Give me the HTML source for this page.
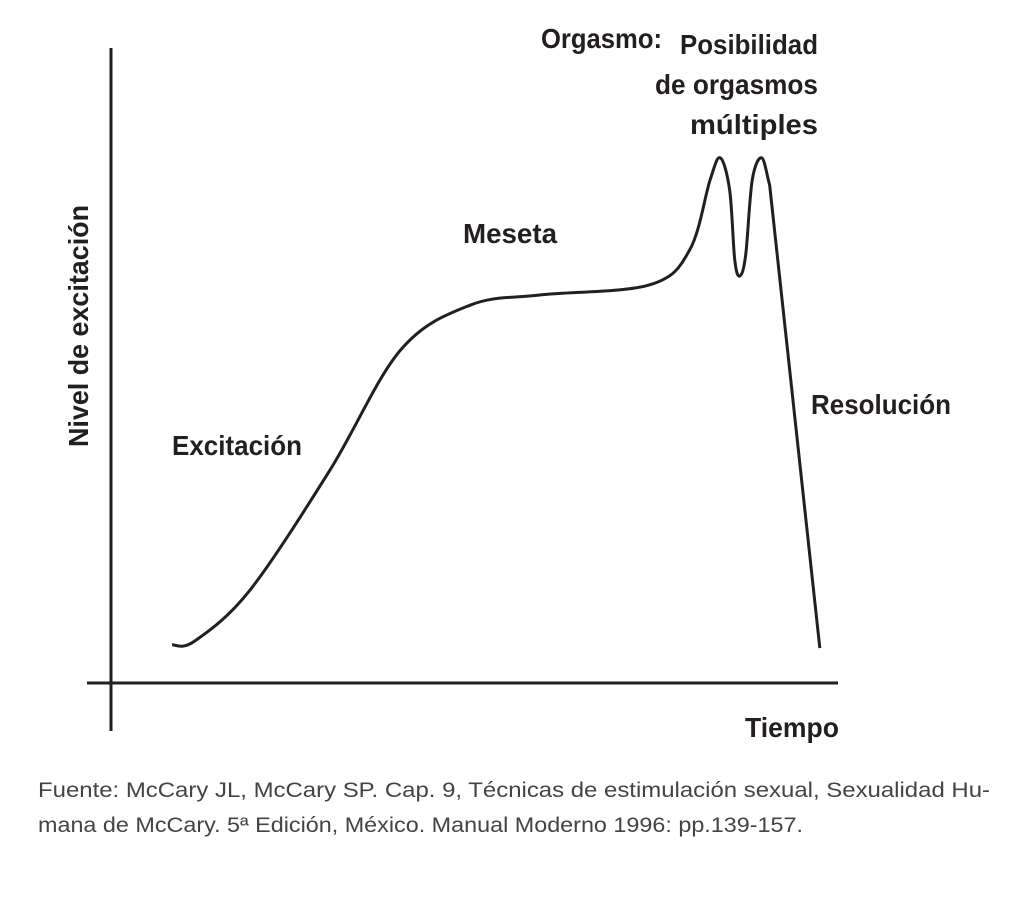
<!DOCTYPE html>
<html><head><meta charset="utf-8"><style>
html,body{margin:0;padding:0;background:#fff;}
svg{display:block;}
.lbl{font-family:"Liberation Sans Narrow","Liberation Sans",sans-serif;font-weight:bold;font-size:28px;fill:#231f20;}
.foot{font-family:"Liberation Sans",sans-serif;font-size:21px;fill:#444;}
</style></head><body>
<svg width="1029" height="904" viewBox="0 0 1029 904">
<line x1="111" y1="48" x2="111" y2="731" stroke="#231f20" stroke-width="3"/>
<line x1="87" y1="683" x2="838" y2="683" stroke="#231f20" stroke-width="3"/>
<path id="curve" fill="none" stroke="#231f20" stroke-width="3"/>
<text class="lbl" x="172" y="455" textLength="130" lengthAdjust="spacingAndGlyphs">Excitación</text>
<text class="lbl" x="463" y="243" textLength="94" lengthAdjust="spacingAndGlyphs">Meseta</text>
<text class="lbl" x="811" y="414" textLength="140" lengthAdjust="spacingAndGlyphs">Resolución</text>
<text class="lbl" x="541" y="48" textLength="121" lengthAdjust="spacingAndGlyphs">Orgasmo:</text>
<text class="lbl" x="680" y="54" textLength="138" lengthAdjust="spacingAndGlyphs">Posibilidad</text>
<text class="lbl" x="655" y="94" textLength="163" lengthAdjust="spacingAndGlyphs">de orgasmos</text>
<text class="lbl" x="690" y="134" textLength="128" lengthAdjust="spacingAndGlyphs">múltiples</text>
<text class="lbl" x="745" y="737" textLength="94" lengthAdjust="spacingAndGlyphs">Tiempo</text>
<text class="lbl" transform="translate(88,447) rotate(-90)" x="0" y="0" textLength="242" lengthAdjust="spacingAndGlyphs">Nivel de excitación</text>
<text class="foot" x="38" y="797" textLength="952" lengthAdjust="spacingAndGlyphs">Fuente: McCary JL, McCary SP. Cap. 9, Técnicas de estimulación sexual, Sexualidad Hu-</text>
<text class="foot" x="38" y="832" textLength="765" lengthAdjust="spacingAndGlyphs">mana de McCary. 5ª Edición, México. Manual Moderno 1996: pp.139-157.</text>
</svg>
<script>
const timeValues = [8.4, 11.5, 19.1, 30.1, 39.8, 49.4, 59.0, 74.1, 79.6, 82.4, 83.8, 85.1, 85.8, 86.5, 87.3, 88.2, 89.5, 90.6, 97.5];
const levelValues = [6.0, 6.6, 14.6, 33.5, 52.4, 59.5, 61.1, 62.7, 68.2, 79.2, 82.7, 77.6, 66.6, 64.1, 67.4, 79.2, 82.7, 78.4, 5.5];
function xScale(t){ return 111 + t * (838 - 111) / 100; }
function yScale(v){ return 683 - v * (683 - 48) / 100; }
const pts = timeValues.map((t,i)=>[xScale(t), yScale(levelValues[i])]);
let d = 'M' + pts[0][0] + ',' + pts[0][1];
for (let i = 0; i < pts.length - 1; i++) {
  const p1 = pts[i], p2 = pts[i+1];
  if (i === pts.length - 2) { d += ' L' + p2.join(','); break; }
  const p0 = pts[i-1] || pts[i], p3 = pts[i+2];
  const c1 = [p1[0] + (p2[0]-p0[0])/6, p1[1] + (p2[1]-p0[1])/6];
  const c2 = (i === pts.length - 3) ? [p2[0] - (p2[0]-p1[0])/3, p2[1] - (p2[1]-p1[1])/3] : [p2[0] - (p3[0]-p1[0])/6, p2[1] - (p3[1]-p1[1])/6];
  d += ' C' + c1.join(',') + ' ' + c2.join(',') + ' ' + p2.join(',');
}
document.getElementById('curve').setAttribute('d', d);
</script>
</body></html>
